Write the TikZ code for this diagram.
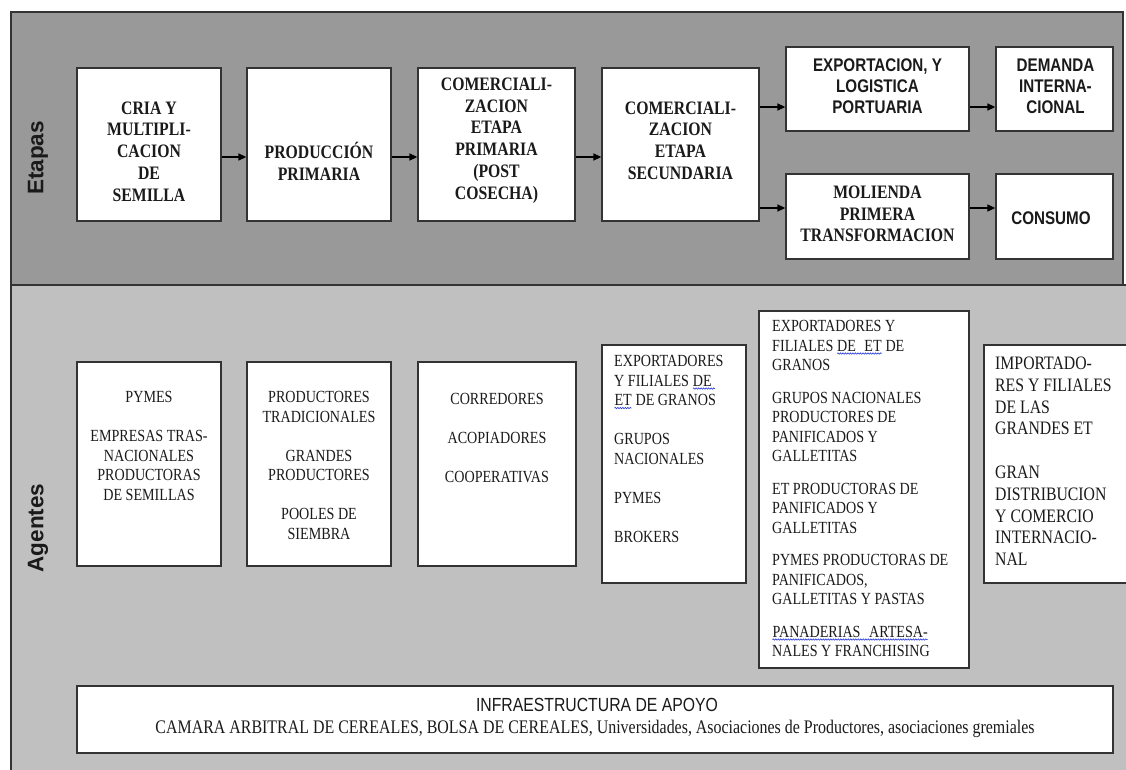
\documentclass[tikz,border=0pt]{standalone}
\usepackage{fontspec}
\setmainfont{Liberation Serif}
\newfontfamily\tnr[FakeStretch=0.83]{Liberation Serif}
\newfontfamily\arl[FakeStretch=0.83]{Liberation Sans}
\newfontfamily\arlw{Liberation Sans}
\usetikzlibrary{arrows.meta,decorations.pathmorphing}
\definecolor{bandtop}{HTML}{999999}
\definecolor{bandbot}{HTML}{C0C0C0}
\definecolor{edge}{HTML}{333333}
\definecolor{ink}{HTML}{1A1A1A}
\definecolor{spell}{HTML}{2B3BDB}
\newcommand\wv[1]{\tikz[baseline=(w.base)]{\node[inner sep=0pt,outer sep=0pt] (w) {#1};\draw[spell,line width=0.6pt,decorate,decoration={snake,amplitude=0.7pt,segment length=2.5pt}] ([yshift=-2.2pt]w.base west) -- ([yshift=-2.2pt]w.base east);}}
\begin{document}
\begin{tikzpicture}[x=1pt,y=-1pt,
  box/.style={draw=edge,line width=1.3pt,fill=white,inner sep=0pt},
  stxt/.style={font=\tnr\bfseries\fontsize{19}{21.7}\selectfont,align=center,inner sep=0pt,text=ink},
  sstxt/.style={font=\arl\bfseries\fontsize{18.3}{21}\selectfont,align=center,inner sep=0pt,text=ink},
  atxt/.style={font=\tnr\fontsize{17}{19.5}\selectfont,align=center,inner sep=0pt,text=ink},
  ltxt/.style={font=\tnr\fontsize{17}{19.5}\selectfont,align=left,inner sep=0pt,text=ink,anchor=north west},
  side/.style={rotate=90,font=\arlw\bfseries\fontsize{22.5}{25}\selectfont,text=ink,inner sep=0pt},
  arr/.style={draw=black,line width=1.3pt,-{Triangle[length=8pt,width=7pt]}}]
\useasboundingbox (0,0) rectangle (1126,770);
\begin{scope}
\clip (0,0) rectangle (1126,770);
% bands
\fill[bandbot] (11,285) rectangle (1130,800);
\fill[bandtop] (11,12) rectangle (1123,285);
\draw[edge,line width=1.2pt] (11,800) -- (11,12) -- (1123,12) -- (1123,285);
\draw[edge,line width=1.2pt] (11,285) -- (1130,285);

\node[side] (etapas) at (38,158) {Etapas};
\node[side] (agentes) at (38,528) {Agentes};

% stages
\node[box,minimum width=144pt,minimum height=153pt] (b1) at (149,144.5) {};
\node[box,minimum width=144pt,minimum height=153pt] (b2) at (319,144.5) {};
\node[box,minimum width=157pt,minimum height=153pt] (b3) at (496.5,144.5) {};
\node[box,minimum width=157pt,minimum height=153pt] (b4) at (680.5,144.5) {};
\node[box,minimum width=183pt,minimum height=84pt] (b5) at (877.5,89) {};
\node[box,minimum width=117pt,minimum height=84pt] (b6) at (1054.5,89) {};
\node[box,minimum width=183pt,minimum height=85pt] (b7) at (877.5,216.5) {};
\node[box,minimum width=117pt,minimum height=85pt] (b8) at (1054.5,216.5) {};

\node[stxt] (t1) at (149,151.5) {CRIA Y\\MULTIPLI-\\CACION\\DE\\SEMILLA};
\node[stxt] (t2) at (319,161) {PRODUCCIÓN\\PRIMARIA};
\node[stxt] (t3) at (496.5,140.5) {COMERCIALI-\\ZACION\\ETAPA\\PRIMARIA\\(POST\\COSECHA)};
\node[stxt] (t4) at (680.5,140.5) {COMERCIALI-\\ZACION\\ETAPA\\SECUNDARIA};
\node[sstxt] (t5) at (877.5,86) {EXPORTACION, Y\\LOGISTICA\\PORTUARIA};
\node[sstxt] (t6) at (1055.5,86) {DEMANDA\\INTERNA-\\CIONAL};
\node[stxt] (t7) at (877.5,214) {MOLIENDA\\PRIMERA\\TRANSFORMACION};
\node[sstxt] (t8) at (1051,218) {CONSUMO};

\coordinate (ya) at (0,157);
\coordinate (yb) at (0,107);
\coordinate (yc) at (0,208);
\draw[arr] (b1.east|-ya) -- (b2.west|-ya);
\draw[arr] (b2.east|-ya) -- (b3.west|-ya);
\draw[arr] (b3.east|-ya) -- (b4.west|-ya);
\draw[arr] (b4.east|-yb) -- (b5.west|-yb);
\draw[arr] (b5.east|-yb) -- (b6.west|-yb);
\draw[arr] (b4.east|-yc) -- (b7.west|-yc);
\draw[arr] (b7.east|-yc) -- (b8.west|-yc);

% agents
\node[box,minimum width=144pt,minimum height=204pt] (a1) at (149,464) {};
\node[box,minimum width=144pt,minimum height=204pt] (a2) at (319,464) {};
\node[box,minimum width=158pt,minimum height=204pt] (a3) at (497,464) {};
\node[box,minimum width=144pt,minimum height=238pt] (a4) at (674,464) {};
\node[box,minimum width=210pt,minimum height=357pt] (a5) at (864,489.5) {};
\node[box,minimum width=170pt,minimum height=238pt] (a6) at (1069,464) {};

\node[atxt,anchor=north] (p1) at (149,391.4) {PYMES\\[19.5pt]EMPRESAS TRAS-\\NACIONALES\\PRODUCTORAS\\DE SEMILLAS};
\node[atxt,anchor=north] (p2) at (319,391.4) {PRODUCTORES\\TRADICIONALES\\[19.5pt]GRANDES\\PRODUCTORES\\[19.5pt]POOLES DE\\SIEMBRA};
\node[atxt,anchor=north] (p3) at (497,393.4) {CORREDORES\\[19.5pt]ACOPIADORES\\[19.5pt]COOPERATIVAS};
\node[ltxt] (p4) at (614,355.4) {EXPORTADORES\\Y FILIALES \wv{DE }\\\wv{ET} DE GRANOS\\[19.5pt]GRUPOS\\NACIONALES\\[19.5pt]PYMES\\[19.5pt]BROKERS};
\node[ltxt] (p5) at (772,320.4) {EXPORTADORES Y\\FILIALES \wv{DE\hspace{0.5em}ET} DE\\GRANOS\\[13pt]GRUPOS NACIONALES\\PRODUCTORES DE\\PANIFICADOS Y\\GALLETITAS\\[13pt]ET PRODUCTORAS DE\\PANIFICADOS Y\\GALLETITAS\\[13pt]PYMES PRODUCTORAS DE\\PANIFICADOS,\\GALLETITAS Y PASTAS\\[13pt]\wv{PANADERIAS\hspace{0.5em}ARTESA-}\\NALES Y FRANCHISING};
\node[ltxt,font=\tnr\fontsize{19}{21.8}\selectfont] (p6) at (995,356.7) {IMPORTADO-\\RES Y FILIALES\\DE LAS\\GRANDES ET\\[21.8pt]GRAN\\DISTRIBUCION\\Y COMERCIO\\INTERNACIO-\\NAL};

% infrastructure
\node[box,minimum width=1036pt,minimum height=67pt] (infra) at (595,719.5) {};
\node[inner sep=0pt,text=ink,font=\arl\fontsize{19}{22}\selectfont] (infrat) at (597,705) {INFRAESTRUCTURA DE APOYO};
\node[inner sep=0pt,text=ink,anchor=base,font=\tnr\fontsize{19.2}{22}\selectfont] (camt) at (595,733.3) {CAMARA ARBITRAL DE CEREALES, BOLSA DE CEREALES, Universidades, Asociaciones de Productores, asociaciones gremiales};
\end{scope}
\end{tikzpicture}
\end{document}
